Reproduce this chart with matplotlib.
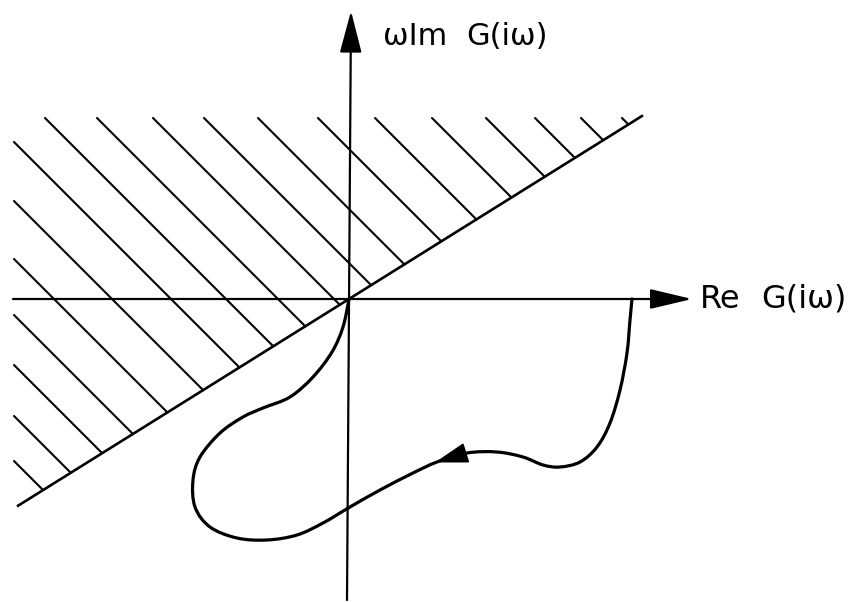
import numpy as np
import matplotlib
matplotlib.use("Agg")
import matplotlib.pyplot as plt
from matplotlib.path import Path
from matplotlib.patches import PathPatch, FancyArrowPatch

plt.rcParams['font.family'] = ['DejaVu Sans']

# Nyquist-type locus of G(iw), traced from w = 0 (on the positive real axis)
# towards w -> infinity (ending at the origin)
re_g = [2.83, 2.81, 2.78, 2.71, 2.61, 2.48, 2.31, 2.11, 1.94, 1.74, 1.48, 1.18,
        0.88, 0.64, 0.31, 0.01, -0.26, -0.52, -0.82, -1.12, -1.39, -1.54, -1.56,
        -1.49, -1.29, -1.06, -0.86, -0.59, -0.36, -0.17, -0.06, 0.0]
im_g = [0.0, -0.21, -0.54, -0.91, -1.24, -1.48, -1.63, -1.68, -1.66, -1.58, -1.53, -1.54,
        -1.63, -1.74, -1.91, -2.08, -2.24, -2.36, -2.41, -2.39, -2.28, -2.08, -1.81,
        -1.58, -1.34, -1.18, -1.09, -0.98, -0.78, -0.53, -0.28, 0.0]

# Popov line through the origin (Im = slope * Re)
popov_slope = 0.6246
popov_re_range = [-3.32, 2.94]

# hatching of the forbidden half-plane: lines Re + Im = k
hatch_k = [-4.97, -4.52, -4.01, -3.51, -2.95, -2.37, -1.78, -1.23, -0.71, -0.15,
           0.36, 0.90, 1.50, 2.07, 2.64, 3.18, 3.67, 4.13, 4.54]
hatch_left = -3.35
hatch_top = 1.81

axis_re = [-3.36, 3.43]
axis_im = [-3.01, 2.88]

fig = plt.figure(figsize=(8.53, 6.02), dpi=100)
ax = fig.add_axes([0, 0, 1, 1])
ax.set_xlim(-3.49, 5.04)
ax.set_ylim(-3.03, 2.99)
ax.set_aspect('auto')
ax.axis('off')

# axes with arrowheads
ax.annotate('', xy=(axis_re[1], 0), xytext=(axis_re[0], 0),
            arrowprops=dict(arrowstyle='-|>,head_length=2.6,head_width=0.62',
                            lw=1.6, color='black', shrinkA=0, shrinkB=0))
ax.annotate('', xy=(0.02, axis_im[1]), xytext=(-0.02, axis_im[0]),
            arrowprops=dict(arrowstyle='-|>,head_length=2.6,head_width=0.68',
                            lw=1.6, color='black', shrinkA=0, shrinkB=0))

# Popov line
pr = np.array(popov_re_range)
ax.plot(pr, popov_slope * pr, color='black', lw=1.9, solid_capstyle='butt')

# hatching
for k in hatch_k:
    im_start = k - hatch_left
    if im_start > hatch_top:
        p0 = (k - hatch_top, hatch_top)
    else:
        p0 = (hatch_left, im_start)
    re_end = k / (1 + popov_slope)
    p1 = (re_end, popov_slope * re_end)
    ax.plot([p0[0], p1[0]], [p0[1], p1[1]], color='black', lw=1.5,
            solid_capstyle='round')

# smooth locus through the traced points (Catmull-Rom as cubic Beziers)
pts = np.column_stack([re_g, im_g])
verts = [tuple(pts[0])]
codes = [Path.MOVETO]
n = len(pts)
for i in range(n - 1):
    p0 = pts[max(i - 1, 0)]
    p1 = pts[i]
    p2 = pts[i + 1]
    p3 = pts[min(i + 2, n - 1)]
    c1 = p1 + (p2 - p0) / 6.0
    c2 = p2 - (p3 - p1) / 6.0
    verts += [tuple(c1), tuple(c2), tuple(p2)]
    codes += [Path.CURVE4] * 3
ax.add_patch(PathPatch(Path(verts, codes), fill=False, lw=2.3,
                       edgecolor='black', capstyle='round', joinstyle='round'))

# direction arrow on the locus
arrow = FancyArrowPatch(posA=(1.15, -1.545), posB=(0.86, -1.635),
                        arrowstyle='-|>,head_length=2.1,head_width=0.65',
                        mutation_scale=10, lw=1.2, color='black',
                        shrinkA=0, shrinkB=0)
ax.add_patch(arrow)

# axis labels
ax.text(3.51, -0.09, "Re", fontsize=23, ha='left', va='baseline')
ax.text(4.98, -0.09, "G(i\u03c9)", fontsize=23, ha='right', va='baseline')
ax.text(0.34, 2.54, "\u03c9Im", fontsize=22, ha='left', va='baseline')
ax.text(1.17, 2.54, "G(i\u03c9)", fontsize=22, ha='left', va='baseline')

fig.savefig('out.png', dpi=100)
